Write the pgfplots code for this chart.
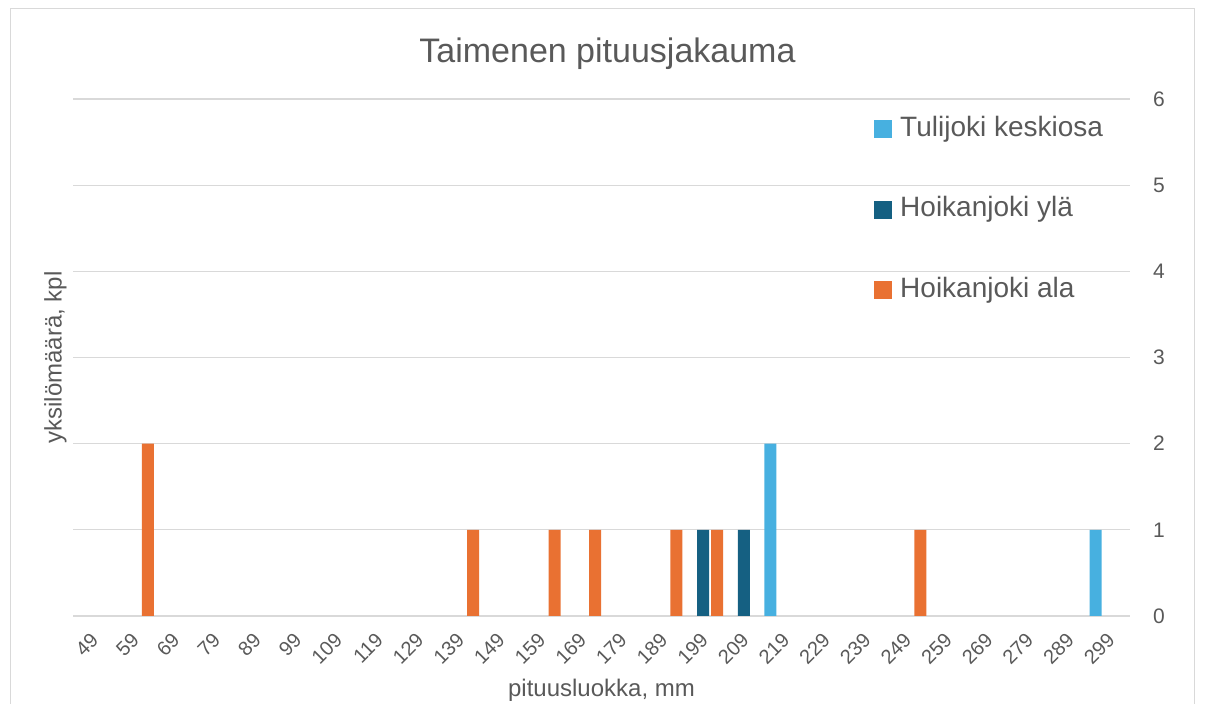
\documentclass[border=0pt]{standalone}
\usepackage{pgfplots}
\pgfplotsset{compat=1.18}
\usepackage{fontspec}
\setmainfont{Liberation Sans}
\definecolor{txt}{HTML}{595959}
\definecolor{gridc}{HTML}{D9D9D9}
\definecolor{cLight}{HTML}{47B0E0}
\definecolor{cDark}{HTML}{156082}
\definecolor{cOrange}{HTML}{E97132}
\pgfplotsset{sq legend/.style={legend image code/.code={\fill[##1] (0pt,-9pt) rectangle (18pt,9pt);}}}
\begin{document}
\begin{tikzpicture}[x=1pt,y=1pt]
\path[use as bounding box] (0,0) rectangle (1205,704);
\draw[gridc, line width=1pt] (10.5,-10) rectangle (1194.5,695.5);
\begin{axis}[
  at={(73pt,88pt)}, anchor=south west,
  scale only axis, width=1057pt, height=517pt,
  xmin=-0.5, xmax=25.5, ymin=0, ymax=6,
  ybar, bar width=12pt,
  axis line style={draw=none},
  major tick length=0pt,
  /pgf/number format/assume math mode=true,
  xtick={0,...,25},
  xticklabels={49,59,69,79,89,99,109,119,129,139,149,159,169,179,189,199,209,219,229,239,249,259,269,279,289,299},
  ytick={0,...,6},
  ymajorgrids, grid style={gridc, line width=1.3pt},
  yticklabel pos=right,
  yticklabel style={font=\fontsize{21}{24}\selectfont, text=txt, anchor=west, inner sep=0pt, xshift=23pt},
  xticklabel style={font=\fontsize{20}{24}\selectfont, text=txt, inner sep=0pt, xshift=1.5pt, yshift=-21pt, rotate=45, anchor=east},
  title={Taimenen pituusjakauma},
  title style={at={(rel axis cs:0.5,1)}, anchor=base, font=\fontsize{34}{40}\selectfont, text=txt, xshift=6pt, yshift=30.7pt},
  xlabel={pituusluokka, mm},
  every axis x label/.style={at={(rel axis cs:0.5,0)}, anchor=base, font=\fontsize{24}{28}\selectfont, text=txt, yshift=-81pt},
  ylabel={yksilömäärä, kpl},
  every axis y label/.style={at={(rel axis cs:0,0.5)}, xshift=-11.5pt, rotate=90, anchor=base, font=\fontsize{24}{28}\selectfont, text=txt},
  legend style={at={(rel axis cs:0.755,0.971)}, anchor=north west, draw=none, fill=none,
    font=\fontsize{28}{34}\selectfont, text=txt,
    nodes={inner sep=0pt, text height=20pt, text depth=6pt},
    row sep=54.5pt,
    /tikz/every odd column/.append style={column sep=8pt}},
  legend cell align=left,
]
\addplot[fill=cLight, draw=none, bar shift=-14pt, sq legend] coordinates {(17,2) (25,1)};
\addlegendentry{Tulijoki keskiosa}
\addplot[fill=cDark, draw=none, bar shift=0pt, sq legend] coordinates {(15,1) (16,1)};
\addlegendentry{Hoikanjoki ylä}
\addplot[fill=cOrange, draw=none, bar shift=14pt, sq legend] coordinates {(1,2) (9,1) (11,1) (12,1) (14,1) (15,1) (20,1)};
\addlegendentry{Hoikanjoki ala}
\end{axis}
\end{tikzpicture}
\end{document}
